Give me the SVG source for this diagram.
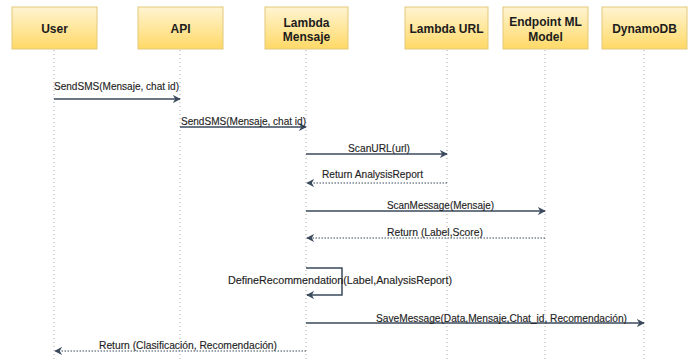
<svg xmlns="http://www.w3.org/2000/svg" width="692" height="360" viewBox="0 0 692 360">
  <defs>
    <linearGradient id="boxFill" x1="0" y1="0" x2="0" y2="1">
      <stop offset="0" stop-color="#fff4d2"/>
      <stop offset="1" stop-color="#ffd966"/>
    </linearGradient>
    <marker id="arrow" viewBox="0 0 10 10" refX="9" refY="5" markerWidth="8" markerHeight="8" markerUnits="userSpaceOnUse" orient="auto">
      <path d="M0,0 L10,5 L0,10 L3,5 Z" fill="#3b4a5c"/>
    </marker>
  </defs>
  <style>
    .box { fill: url(#boxFill); stroke: #e3c878; stroke-width: 1; }
    .head { font-family: "Liberation Sans", Arial, sans-serif; font-size: 12px; font-weight: bold; fill: #1c1c1c; text-anchor: middle; }
    .life { stroke: #a8a8a8; stroke-width: 1; stroke-dasharray: 1 3; fill: none; }
    .msg { stroke: #3b4a5c; stroke-width: 1.5; fill: none; marker-end: url(#arrow); }
    .ret { stroke: #3b4a5c; stroke-width: 1; stroke-dasharray: 1.5 1.5; fill: none; marker-end: url(#arrow); }
    .lbl { font-family: "Liberation Sans", Arial, sans-serif; font-size: 11.5px; fill: #1e1e1e; stroke: #1e1e1e; stroke-width: 0.15; }
  </style>
  <rect width="692" height="360" fill="#ffffff"/>

  <!-- participants with their lifelines -->
  <g id="user">
    <rect class="box" x="12" y="7" width="85" height="42"/>
    <text class="head" x="54.5" y="32.5">User</text>
    <line class="life" x1="54" y1="50" x2="54" y2="360"/>
  </g>
  <g id="api">
    <rect class="box" x="138" y="7" width="85" height="42"/>
    <text class="head" x="180.5" y="32.5">API</text>
    <line class="life" x1="180" y1="50" x2="180" y2="360"/>
  </g>
  <g id="lambda-mensaje">
    <rect class="box" x="265" y="7" width="83" height="42"/>
    <text class="head" x="306.5" y="26.5">Lambda</text>
    <text class="head" x="306.5" y="41">Mensaje</text>
    <line class="life" x1="306" y1="50" x2="306" y2="360"/>
  </g>
  <g id="lambda-url">
    <rect class="box" x="405" y="7" width="83" height="42"/>
    <text class="head" x="446.5" y="32.5">Lambda URL</text>
    <line class="life" x1="447" y1="50" x2="447" y2="360"/>
  </g>
  <g id="endpoint-ml">
    <rect class="box" x="503" y="7" width="85" height="42"/>
    <text class="head" x="545.5" y="25.5">Endpoint ML</text>
    <text class="head" x="545.5" y="41">Model</text>
    <line class="life" x1="545" y1="50" x2="545" y2="360"/>
  </g>
  <g id="dynamodb">
    <rect class="box" x="602" y="7" width="85" height="42"/>
    <text class="head" x="644.5" y="32.5">DynamoDB</text>
    <line class="life" x1="644" y1="50" x2="644" y2="360"/>
  </g>

  <!-- messages -->
  <g id="connectors">
    <line class="msg" x1="54" y1="99" x2="180" y2="99"/>
    <line class="msg" x1="180" y1="127" x2="306" y2="127"/>
    <line class="msg" x1="306" y1="154" x2="447" y2="154"/>
    <line class="ret" x1="447" y1="183" x2="307" y2="183"/>
    <line class="msg" x1="306" y1="211" x2="545" y2="211"/>
    <line class="ret" x1="545" y1="238" x2="307" y2="238"/>
    <path class="msg" d="M306,268 H342 V295 H307"/>
    <line class="msg" x1="306" y1="323" x2="644" y2="323"/>
    <line class="ret" x1="306" y1="351" x2="55" y2="351"/>
  </g>

  <!-- message labels -->
  <g id="labels">
    <text class="lbl" x="54" y="89.5" textLength="125" lengthAdjust="spacingAndGlyphs">SendSMS(Mensaje, chat id)</text>
    <text class="lbl" x="181" y="125" textLength="125" lengthAdjust="spacingAndGlyphs">SendSMS(Mensaje, chat id)</text>
    <text class="lbl" x="348" y="152" textLength="62" lengthAdjust="spacingAndGlyphs">ScanURL(url)</text>
    <text class="lbl" x="322" y="178" textLength="101" lengthAdjust="spacingAndGlyphs">Return AnalysisReport</text>
    <text class="lbl" x="387" y="208.5" textLength="107" lengthAdjust="spacingAndGlyphs">ScanMessage(Mensaje)</text>
    <text class="lbl" x="387" y="235.5" textLength="96" lengthAdjust="spacingAndGlyphs">Return (Label,Score)</text>
    <text class="lbl" x="228" y="283.5" textLength="224" lengthAdjust="spacingAndGlyphs">DefineRecommendation(Label,AnalysisReport)</text>
    <text class="lbl" x="376" y="321.5" textLength="251" lengthAdjust="spacingAndGlyphs">SaveMessage(Data,Mensaje,Chat_id, Recomendación)</text>
    <text class="lbl" x="99" y="349" textLength="178" lengthAdjust="spacingAndGlyphs">Return (Clasificación, Recomendación)</text>
  </g>
</svg>
